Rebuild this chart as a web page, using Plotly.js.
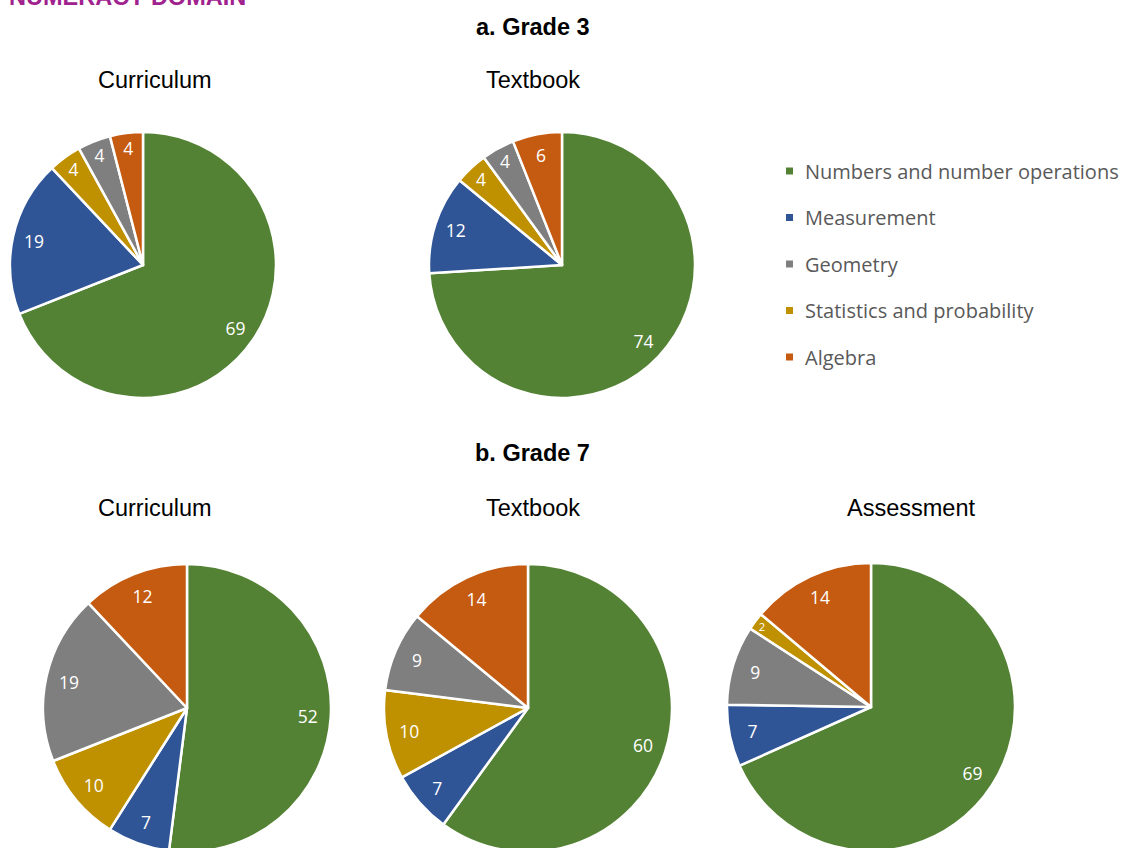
<!DOCTYPE html>
<html>
<head>
<meta charset="utf-8">
<script src="https://cdn.plot.ly/plotly-3.0.1.min.js"></script>
<style>
html, body { margin: 0; padding: 0; overflow: hidden; background: #ffffff; }
#chart { width: 1129px; height: 860px; }
</style>
</head>
<body>
<div id="chart"></div>
<script>
// ---------- data ----------
const categories = ['Numbers and number operations', 'Measurement', 'Geometry', 'Statistics and probability', 'Algebra'];

// slice order (clockwise from 12 o'clock) as drawn in each pie
const sliceOrderMain = ['Numbers and number operations', 'Measurement', 'Statistics and probability', 'Geometry', 'Algebra'];
const sliceOrderAssessment = ['Numbers and number operations', 'Measurement', 'Geometry', 'Statistics and probability', 'Algebra'];

const grade3Curriculum = [69, 19, 4, 4, 4];
const grade3Textbook = [74, 12, 4, 4, 6];
const grade7Curriculum = [52, 7, 10, 19, 12];
const grade7Textbook = [60, 7, 10, 9, 14];
const grade7Assessment = [69, 7, 9, 2, 14];

const mainTitle = 'NUMERACY DOMAIN';
const panelTitles = ['a. Grade 3', 'b. Grade 7'];
const pieTitles = ['Curriculum', 'Textbook', 'Curriculum', 'Textbook', 'Assessment'];

// ---------- styles / layout ----------
const colorOf = {
  'Numbers and number operations': '#548235',
  'Measurement': '#2F5597',
  'Geometry': '#7F7F7F',
  'Statistics and probability': '#BF9000',
  'Algebra': '#C55A11'
};
const W = 1129, H = 860;
const px = x => x / W;
const py = y => 1 - y / H;
const dom = (cx, cy, r) => ({ x: [(cx - r) / W, (cx + r) / W], y: [1 - (cy + r) / H, 1 - (cy - r) / H] });

const pies = [
  { labels: sliceOrderMain, values: grade3Curriculum, geo: [143, 265, 133], title: pieTitles[0], tpos: [154.5, 80] },
  { labels: sliceOrderMain, values: grade3Textbook, geo: [562, 265, 133], title: pieTitles[1], tpos: [533, 80] },
  { labels: sliceOrderMain, values: grade7Curriculum, geo: [187, 708, 144], title: pieTitles[2], tpos: [155, 508] },
  { labels: sliceOrderMain, values: grade7Textbook, geo: [528, 708, 144], title: pieTitles[3], tpos: [533, 508] },
  { labels: sliceOrderAssessment, values: grade7Assessment, geo: [871, 707, 144], title: pieTitles[4], tpos: [910.5, 508] }
];

const labelFont = { family: 'Open Sans, Noto Sans, sans-serif', size: 17.5, color: '#ffffff' };
const titleFont = { family: 'Liberation Sans, Arial, sans-serif', size: 23.5, color: '#000000' };

const traces = [];
const annotations = [];
const shapes = [];

pies.forEach(p => {
  const d = dom(p.geo[0], p.geo[1], p.geo[2]);
  // filled pie
  traces.push({
    type: 'pie', labels: p.labels, values: p.values, domain: d,
    sort: false, direction: 'clockwise', rotation: 0,
    marker: { colors: p.labels.map(l => colorOf[l]), line: { color: '#ffffff', width: 2.5 } },
    textinfo: 'none', hoverinfo: 'label+value', showlegend: false
  });
  // value labels placed in the outer ring
  traces.push({
    type: 'pie', labels: p.labels, values: p.values, domain: d,
    sort: false, direction: 'clockwise', rotation: 0, hole: 0.68,
    marker: { colors: p.labels.map(() => 'rgba(0,0,0,0)'), line: { width: 0 } },
    textinfo: 'value', textposition: 'inside', insidetextorientation: 'horizontal',
    insidetextfont: labelFont, textfont: labelFont,
    hoverinfo: 'skip', showlegend: false
  });
  annotations.push({
    xref: 'paper', yref: 'paper', x: px(p.tpos[0]), y: py(p.tpos[1]),
    xanchor: 'center', yanchor: 'middle', showarrow: false,
    text: p.title, font: titleFont
  });
});

// main & panel titles
annotations.push({
  xref: 'paper', yref: 'paper', x: px(7), y: py(-2.5), xanchor: 'left', yanchor: 'middle',
  showarrow: false, text: '<b>' + mainTitle + '</b>',
  font: { family: 'Liberation Sans, Arial, sans-serif', size: 23.5, color: '#A0228E' }
});
annotations.push({
  xref: 'paper', yref: 'paper', x: px(532.5), y: py(26.5), xanchor: 'center', yanchor: 'middle',
  showarrow: false, text: '<b>' + panelTitles[0] + '</b>', font: titleFont
});
annotations.push({
  xref: 'paper', yref: 'paper', x: px(532.5), y: py(453), xanchor: 'center', yanchor: 'middle',
  showarrow: false, text: '<b>' + panelTitles[1] + '</b>', font: titleFont
});

// legend
categories.forEach((c, i) => {
  const yc = 171 + i * 46.5;
  shapes.push({
    type: 'rect', xref: 'paper', yref: 'paper',
    x0: px(786), x1: px(793), y0: py(yc + 3.5), y1: py(yc - 3.5),
    fillcolor: colorOf[c], line: { width: 0 }
  });
  annotations.push({
    xref: 'paper', yref: 'paper', x: px(803), y: py(yc), xanchor: 'left', yanchor: 'middle',
    showarrow: false, text: c,
    font: { family: 'Open Sans, Noto Sans, sans-serif', size: 20, color: '#595959' }
  });
});

const layout = {
  width: W, height: H,
  margin: { l: 0, r: 0, t: 0, b: 0 },
  paper_bgcolor: '#ffffff', plot_bgcolor: '#ffffff',
  showlegend: false,
  annotations: annotations,
  shapes: shapes
};

Plotly.newPlot('chart', traces, layout, { displayModeBar: false, staticPlot: true });
</script>
</body>
</html>
